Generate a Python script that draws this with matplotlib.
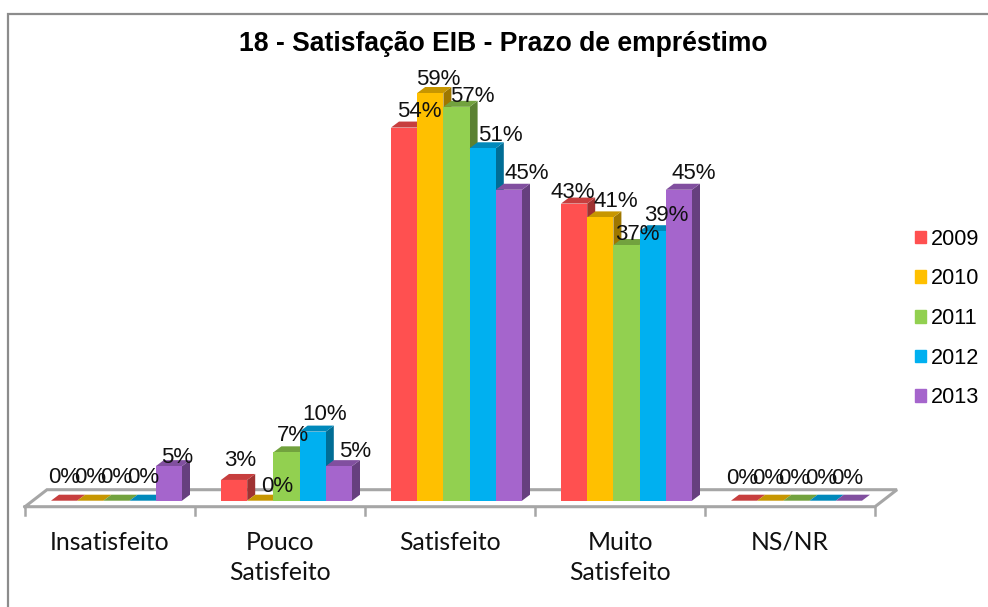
import matplotlib
matplotlib.use('Agg')
import matplotlib.pyplot as plt
from matplotlib.patches import Polygon, Patch
from matplotlib.colors import to_rgb

# valores
categorias = ['Insatisfeito', 'Pouco\nSatisfeito', 'Satisfeito', 'Muito\nSatisfeito', 'NS/NR']
anos = ['2009', '2010', '2011', '2012', '2013']
v2009 = [0, 3, 54, 43, 0]
v2010 = [0, 0, 59, 41, 0]
v2011 = [0, 7, 57, 37, 0]
v2012 = [0, 10, 51, 39, 0]
v2013 = [5, 5, 45, 45, 0]
series = [v2009, v2010, v2011, v2012, v2013]
cores = ['#FF5050', '#FFC000', '#92D050', '#00B0F0', '#A565CC']

# deslocamento dos rotulos em pixels (dx, dy acima do topo), por ano e categoria
rotulo_dx = [[0, 6, 15, -1, -2], [0, 17, 8, 16, -2], [0, 6, 16, 11, -2], [0, 12, 18, 14, -2], [8, 16, 18, 15, -2]]
rotulo_dy = [[17, 13, 10, 5, 16], [17, 8, 7, 10, 16], [17, 11, 4, 4, 16], [17, 11, 7, 10, 16], [2, 8, 10, 10, 16]]

W, H = 988, 607
PX_CAT = 170.0   # largura de uma categoria
PX_PCT = 6.91    # pixels por ponto percentual
X0 = 25.0        # eixo esquerdo em px
Y0 = 500.7       # base das barras em px
BAR = 26.2 / PX_CAT
DX = 8 / PX_CAT  # profundidade
DY = 6 / PX_PCT

fig = plt.figure(figsize=(W / 100, H / 100), dpi=100)
plt.rcParams['font.family'] = ['Liberation Sans', 'DejaVu Sans']
ax = fig.add_axes([0, 0, 1, 1])
# eixo x em categorias, eixo y em percentagem
ax.set_xlim(-X0 / PX_CAT, (W - X0) / PX_CAT)
ax.set_ylim(-(H - Y0) / PX_PCT, Y0 / PX_PCT)
ax.axis('off')


def px(n):
    return n / PX_CAT


def py(n):
    return n / PX_PCT


# moldura, so esquerda e topo
ax.plot([px(8 - X0), px(8 - X0), px(W - X0)], [py(Y0 - H), py(Y0 - 14), py(Y0 - 14)], color='#8c8c8c', lw=1.6,
        solid_joinstyle='miter')

# chao do grafico
chao = '#a6a6a6'
n = len(categorias)
ax.plot([0, n, n + px(22), px(22), 0], [py(-6), py(-6), py(11), py(11), py(-6)], color=chao, lw=2.2, solid_joinstyle='miter', zorder=1)
for i in range(n + 1):
    ax.plot([i, i], [py(-6), py(-14)], color=chao, lw=1.8, zorder=1)


def escurece(c, f):
    return tuple(v * f for v in to_rgb(c))


for c in range(n):
    inicio = c + px(26)
    for s, valores in enumerate(series):
        v = valores[c]
        x0 = inicio + s * BAR
        x1 = x0 + BAR
        cor = cores[s]
        z = 2 + c + s * 0.1
        if v > 0:
            ax.bar(x0, v, BAR, align='edge', color=cor, lw=0, zorder=z + 0.02)
            ax.add_patch(Polygon([(x1, 0), (x1 + DX, DY), (x1 + DX, v + DY), (x1, v)], color=escurece(cor, 0.62), lw=0, zorder=z))
        ax.add_patch(Polygon([(x0, v), (x1, v), (x1 + DX, v + DY), (x0 + DX, v + DY)], color=escurece(cor, 0.78), lw=0, zorder=z + 0.01))

# rotulos por cima das barras
for s, valores in enumerate(series):
    for c, v in enumerate(valores):
        x = c + px(26) + (s + 0.5) * BAR + px(rotulo_dx[s][c])
        ax.text(x, v + py(rotulo_dy[s][c] + 0.7), '%d%%' % v, ha='center', va='baseline', fontsize=16, color='#111111', zorder=20)

# nomes das categorias
for c, nome in enumerate(categorias):
    ax.text(c + 0.5, py(-30), nome, ha='center', va='top', fontsize=17.8, family='Lato', color='#111111', linespacing=1.4)

ax.text(px(503 - X0), py(Y0 - 51), '18 - Satisfação EIB - Prazo de empréstimo', ha='center', va='baseline', fontsize=19.1, fontweight='bold', color='black')

handles = [Patch(color=cor, label=a) for cor, a in zip(cores, anos)]
ax.legend(handles=handles, loc='center left', bbox_to_anchor=(915 / W, 1 - 318.5 / H), frameon=False, fontsize=15.6,
          handlelength=0.51, handleheight=0.51, handletextpad=0.22, labelspacing=0.86, borderpad=0, borderaxespad=0)

plt.savefig('out.png', dpi=100)
